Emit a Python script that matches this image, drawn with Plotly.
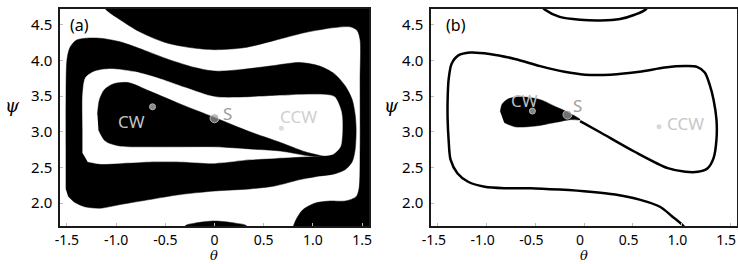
import plotly.graph_objects as go

# ---------------- axes ----------------
theta_ticks = [-1.5, -1.0, -0.5, 0, 0.5, 1.0, 1.5]
theta_ticktext = ["-1.5", "-1.0", "-0.5", "0", "0.5", "1.0", "1.5"]
psi_ticks = [2.0, 2.5, 3.0, 3.5, 4.0, 4.5]
psi_ticktext = ["2.0", "2.5", "3.0", "3.5", "4.0", "4.5"]
theta_range = [-1.5708, 1.5708]
psi_range = [1.68, 4.72]

# ---------------- panel (a): basin boundaries ----------------
# outer black basin (top / right / bottom-right)
a_outer_theta = [-1.16, -1.11, -0.96, -0.76, -0.50, -0.25, 0.00, 0.31, 0.61, 0.92, 1.22, 1.38, 1.45,
                 1.48, 1.48, 1.48, 1.47, 1.44, 1.33, 1.17, 1.02, 0.90, 0.83, 0.79, 0.79, 1.68, 1.68]
a_outer_psi = [4.85, 4.72, 4.57, 4.40, 4.25, 4.18, 4.15, 4.18, 4.28, 4.39, 4.46, 4.47, 4.42,
               4.29, 3.73, 2.75, 2.21, 2.09, 2.03, 2.03, 2.00, 1.91, 1.77, 1.62, 1.48, 1.48, 4.85]
# small black bump at the bottom edge
a_bump_theta = [-0.32, -0.30, -0.20, 0.00, 0.21, 0.33, 0.36]
a_bump_psi = [1.48, 1.68, 1.72, 1.75, 1.72, 1.68, 1.48]
# black band (outer edge)
a_band_out_theta = [-1.51, -1.51, -1.51, -1.50, -1.47, -1.41, -1.31, -1.16, -0.96, -0.71, -0.46, -0.20, 0.00,
                    0.26, 0.56, 0.87, 1.07, 1.22, 1.33, 1.40, 1.43, 1.44, 1.43, 1.40, 1.33, 1.22, 1.07, 0.87,
                    0.61, 0.36, 0.00, -0.35, -0.66, -0.96, -1.16, -1.32, -1.43, -1.49]
a_band_out_psi = [2.19, 2.75, 3.45, 4.01, 4.18, 4.28, 4.31, 4.31, 4.26, 4.14, 4.01, 3.90, 3.85,
                  3.87, 3.92, 3.97, 3.92, 3.81, 3.64, 3.45, 3.24, 3.03, 2.75, 2.58, 2.47, 2.41, 2.38, 2.33,
                  2.24, 2.20, 2.17, 2.12, 2.05, 1.98, 1.93, 1.95, 2.02, 2.10]
# black band (inner edge, white inside)
a_band_in_theta = [-1.34, -1.34, -1.34, -1.31, -1.21, -1.06, -0.81, -0.55, -0.30, 0.00, 0.26, 0.56, 0.87,
                   1.12, 1.22, 1.29, 1.30, 1.28, 1.21, 1.07, 0.87, 0.61, 0.36, 0.00, -0.35, -0.66,
                   -0.96, -1.16, -1.29]
a_band_in_psi = [2.70, 3.03, 3.52, 3.76, 3.85, 3.88, 3.84, 3.74, 3.62, 3.49, 3.48, 3.50, 3.52,
                 3.52, 3.49, 3.28, 3.03, 2.79, 2.69, 2.66, 2.65, 2.63, 2.61, 2.56, 2.58, 2.58,
                 2.56, 2.55, 2.58]
# inner black tongue (contains CW)
a_tongue_theta = [-1.19, -1.17, -1.12, -1.03, -0.88, -0.66, -0.35, 0.00, 0.36, 0.67, 0.92, 1.12,
                  0.97, 0.67, 0.36, 0.00, -0.35, -0.66, -0.96, -1.11, -1.18]
a_tongue_psi = [3.24, 3.45, 3.59, 3.67, 3.69, 3.57, 3.39, 3.20, 3.00, 2.85, 2.72, 2.65,
                2.66, 2.73, 2.76, 2.79, 2.79, 2.79, 2.80, 2.87, 3.03]

# ---------------- panel (b) ----------------
b_curve_theta = [1.05, 1.02, 0.90, 0.78, 0.57, 0.32, 0.06, -0.25, -0.55, -0.81, -1.02, -1.19, -1.30,
                 -1.37, -1.39, -1.40, -1.40, -1.39, -1.36, -1.29, -1.17, -0.97, -0.71, -0.45, -0.20,
                 0.01, 0.27, 0.57, 0.83, 1.04, 1.16, 1.24, 1.29, 1.33, 1.36, 1.36, 1.33, 1.27, 1.17,
                 1.04, 0.86, 0.52, 0.17, -0.04]
b_curve_psi = [1.60, 1.68, 1.82, 1.95, 2.05, 2.12, 2.16, 2.19, 2.21, 2.21, 2.23, 2.30, 2.42,
               2.61, 2.89, 3.17, 3.45, 3.73, 3.95, 4.07, 4.11, 4.09, 4.02, 3.92, 3.84,
               3.80, 3.80, 3.84, 3.90, 3.92, 3.91, 3.83, 3.66, 3.45, 3.17, 2.89, 2.63, 2.49, 2.44,
               2.44, 2.49, 2.72, 2.99, 3.15]
b_tongue_theta = [-0.86, -0.84, -0.78, -0.66, -0.45, -0.29, -0.16, -0.04, -0.14, -0.30, -0.50, -0.71, -0.82]
b_tongue_psi = [3.28, 3.39, 3.46, 3.49, 3.45, 3.35, 3.27, 3.17, 3.17, 3.13, 3.08, 3.07, 3.13]
b_top_theta = [-0.50, -0.40, -0.25, -0.04, 0.17, 0.37, 0.52, 0.63, 0.70]
b_top_psi = [4.85, 4.71, 4.61, 4.57, 4.56, 4.58, 4.64, 4.71, 4.85]

# ---------------- fixed points ----------------
pt_names = ["CW", "S", "CCW"]
a_pt_theta = [-0.63, 0.00, 0.68]
a_pt_psi = [3.35, 3.19, 3.05]
b_pt_theta = [-0.53, -0.17, 0.77]
b_pt_psi = [3.29, 3.24, 3.07]

fig = go.Figure()


def poly(tx, py, color, xa, ya):
    fig.add_trace(go.Scatter(x=tx, y=py, mode="lines", fill="toself", fillcolor=color,
                             line=dict(color=color, width=0.5, shape="spline", smoothing=0.8),
                             xaxis=xa, yaxis=ya, hoverinfo="skip", showlegend=False))


poly(a_outer_theta, a_outer_psi, "black", "x", "y")
poly(a_bump_theta, a_bump_psi, "black", "x", "y")
poly(a_band_out_theta, a_band_out_psi, "black", "x", "y")
poly(a_band_in_theta, a_band_in_psi, "white", "x", "y")
poly(a_tongue_theta, a_tongue_psi, "black", "x", "y")

fig.add_trace(go.Scatter(x=b_curve_theta, y=b_curve_psi, mode="lines",
                         line=dict(color="black", width=2.5, shape="spline", smoothing=0.8),
                         xaxis="x2", yaxis="y2", hoverinfo="skip", showlegend=False))
fig.add_trace(go.Scatter(x=b_top_theta, y=b_top_psi, mode="lines",
                         line=dict(color="black", width=2.5, shape="spline", smoothing=0.8),
                         xaxis="x2", yaxis="y2", hoverinfo="skip", showlegend=False))
poly(b_tongue_theta, b_tongue_psi, "black", "x2", "y2")

pt_sizes = [6, 9, 6]
a_colors = ["#c4c4c4", "#9a9a9a", "#cfcfcf"]
b_colors = ["#bdbdbd", "#a0a0a0", "#c8c8c8"]
fig.add_trace(go.Scatter(x=a_pt_theta, y=a_pt_psi, mode="markers",
                         marker=dict(size=pt_sizes, color=a_colors), xaxis="x", yaxis="y",
                         hoverinfo="skip", showlegend=False))
fig.add_trace(go.Scatter(x=b_pt_theta, y=b_pt_psi, mode="markers",
                         marker=dict(size=pt_sizes, color=b_colors), xaxis="x2", yaxis="y2",
                         hoverinfo="skip", showlegend=False))

FONT = "Noto Sans"
ann = []
a_shift = [(-21, -15), (13, 5), (17, 12)]
b_shift = [(-8, 11), (10, 9), (26, 3)]
for i, n in enumerate(pt_names):
    ann.append(dict(x=a_pt_theta[i], y=a_pt_psi[i], xref="x", yref="y", text=n, showarrow=False,
                    xshift=a_shift[i][0], yshift=a_shift[i][1],
                    font=dict(family=FONT, size=17, color=a_colors[i])))
    ann.append(dict(x=b_pt_theta[i], y=b_pt_psi[i], xref="x2", yref="y2", text=n, showarrow=False,
                    xshift=b_shift[i][0], yshift=b_shift[i][1],
                    font=dict(family=FONT, size=17, color=b_colors[i])))

W, H = 738, 264
for txt, px, py in [("(a)", 79, 25), ("(b)", 456, 25)]:
    ann.append(dict(x=px / W, y=1 - py / H, xref="paper", yref="paper", text=txt, showarrow=False,
                    xanchor="center", yanchor="middle",
                    font=dict(family=FONT, size=16, color="black")))
for px in [12, 391]:
    ann.append(dict(x=px / W, y=1 - 105 / H, xref="paper", yref="paper", text="<i>ψ</i>",
                    showarrow=False, xanchor="center", yanchor="middle",
                    font=dict(family="DejaVu Serif", size=18, color="black")))
for px in [214, 584]:
    ann.append(dict(x=px / W, y=0, xref="paper", yref="paper", text="<i>θ</i>",
                    showarrow=False, xanchor="center", yanchor="bottom", borderpad=0,
                    font=dict(family="DejaVu Serif", size=13, color="black")))

axis_common = dict(showline=True, linecolor="#1a1a1a", linewidth=1.5, mirror=True, showgrid=False,
                   zeroline=False, automargin=False, ticks="inside", ticklen=3, tickwidth=1,
                   tickcolor="#bbbbbb", ticklabeloverflow="allow")
xfont = dict(family=FONT, size=14, color="black")
yfont = dict(family=FONT, size=15, color="black")

fig.update_layout(
    width=W, height=H, margin=dict(l=0, r=0, t=0, b=0, autoexpand=False),
    paper_bgcolor="white", plot_bgcolor="white",
    xaxis=dict(domain=[60 / W, 369 / W], range=theta_range, tickvals=theta_ticks,
               ticktext=theta_ticktext, anchor="y", ticklabelstandoff=0, tickfont=xfont, **axis_common),
    yaxis=dict(domain=[1 - 226 / H, 1 - 9 / H], range=psi_range, tickvals=psi_ticks,
               ticktext=psi_ticktext, anchor="x", ticklabelstandoff=3, tickfont=yfont, **axis_common),
    xaxis2=dict(domain=[431 / W, 737 / W], range=theta_range, tickvals=theta_ticks,
                ticktext=theta_ticktext, anchor="y2", ticklabelstandoff=0, ticklabelshift=-4,
                tickfont=xfont, **axis_common),
    yaxis2=dict(domain=[1 - 226 / H, 1 - 9 / H], range=psi_range, tickvals=psi_ticks,
                ticktext=psi_ticktext, anchor="x2", ticklabelstandoff=3, tickfont=yfont, **axis_common),
    annotations=ann,
)

fig.write_html("out.html", config={"displayModeBar": False},
               post_script="document.body.style.margin='0px';")
